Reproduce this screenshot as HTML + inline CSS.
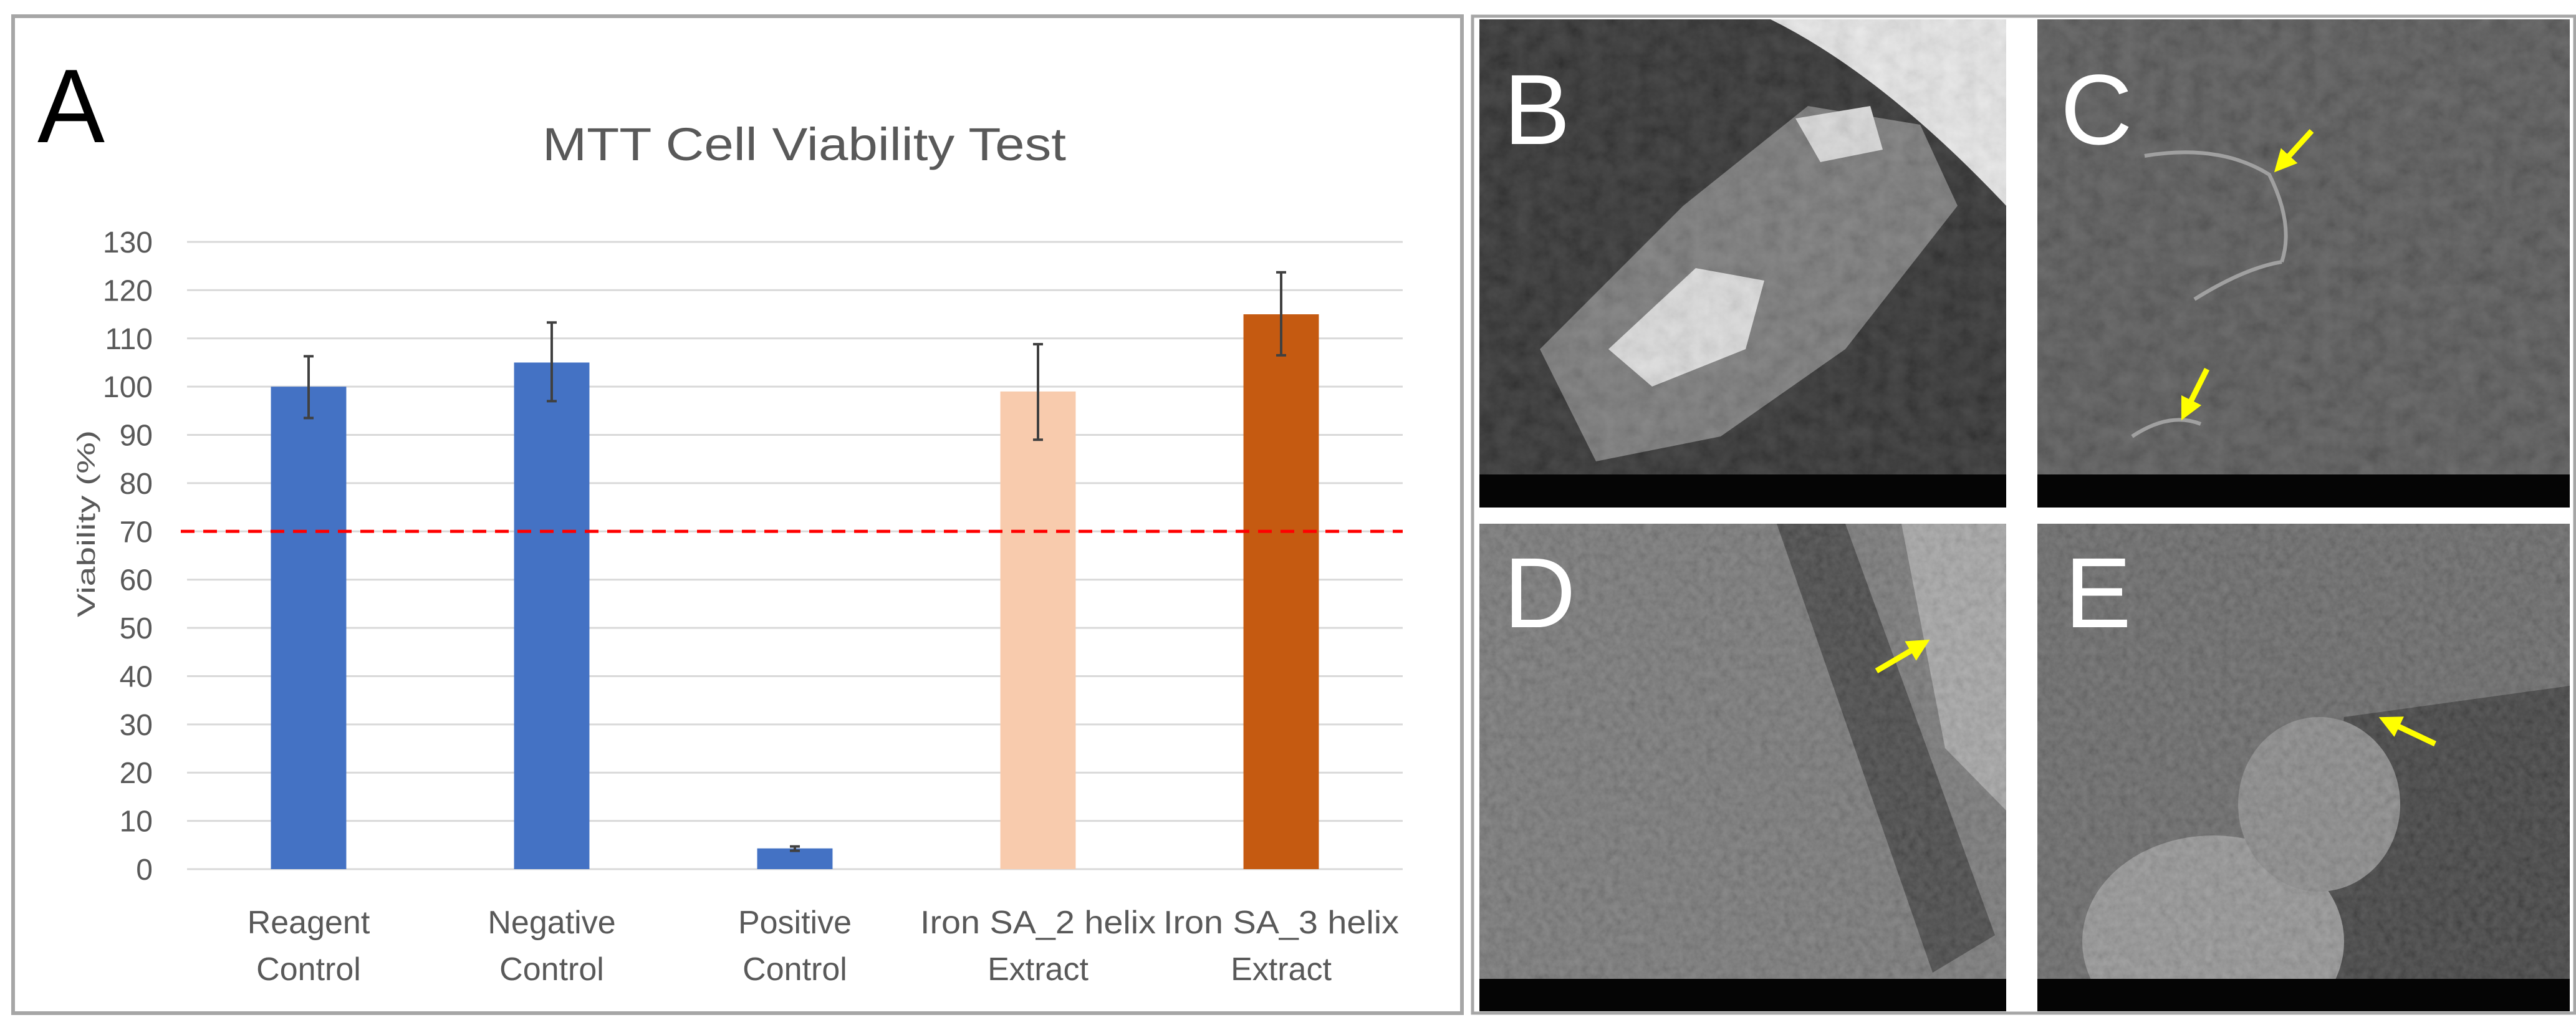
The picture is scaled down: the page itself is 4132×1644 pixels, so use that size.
<!DOCTYPE html>
<html><head><meta charset="utf-8"><style>
html,body{margin:0;padding:0;background:#fff;}
svg{display:block;}
text{font-family:"Liberation Sans",sans-serif;}
</style></head><body>
<svg id="fig" width="4132" height="1644" viewBox="0 0 4132 1644" xmlns="http://www.w3.org/2000/svg">
<defs>
<filter id="noise" x="0" y="0" width="100%" height="100%">
<feTurbulence type="fractalNoise" baseFrequency="0.035" numOctaves="4" seed="3"/>
<feColorMatrix type="saturate" values="0"/>
<feComponentTransfer><feFuncA type="linear" slope="0" intercept="0.22"/></feComponentTransfer>
</filter>
<filter id="noise2" x="0" y="0" width="100%" height="100%">
<feTurbulence type="fractalNoise" baseFrequency="0.08" numOctaves="3" seed="8"/>
<feColorMatrix type="saturate" values="0"/>
<feComponentTransfer><feFuncA type="linear" slope="0" intercept="0.22"/></feComponentTransfer>
</filter>
<clipPath id="cB"><rect x="2373" y="31" width="845" height="783"/></clipPath>
<clipPath id="cC"><rect x="3268" y="31" width="854" height="783"/></clipPath>
<clipPath id="cD"><rect x="2373" y="840" width="845" height="782"/></clipPath>
<clipPath id="cE"><rect x="3268" y="840" width="854" height="782"/></clipPath>
<marker id="ah" markerWidth="4" markerHeight="4" refX="2" refY="2" orient="auto" markerUnits="strokeWidth"><path d="M0,0 L4,2 L0,4 z" fill="#ffff00"/></marker>
</defs>

<!-- Panel A -->
<rect x="21" y="26" width="2324" height="1599" fill="#fff" stroke="#a6a6a6" stroke-width="6"/>
<text x="60" y="228" font-size="168" fill="#000" textLength="108" lengthAdjust="spacingAndGlyphs">A</text>
<text x="1290" y="257" font-size="74" fill="#595959" text-anchor="middle" textLength="840" lengthAdjust="spacingAndGlyphs">MTT Cell Viability Test</text>
<text transform="translate(152,840) rotate(-90)" font-size="40" fill="#595959" text-anchor="middle" textLength="300" lengthAdjust="spacingAndGlyphs">Viability (%)</text>
<g id="grid"></g>
<g id="yticks"></g>
<g id="bars"></g>
<g id="xlabels"></g>

<!-- Right panel -->
<rect x="2362" y="26" width="1768" height="1599" fill="#fff" stroke="#a6a6a6" stroke-width="5"/>

<g clip-path="url(#cB)">
<rect x="2373" y="31" width="845" height="783" fill="#1e1e1e"/>
<path d="M2840,31 L3218,31 L3218,330 Q3020,120 2840,31 z" fill="#e8e8e8"/>
<path d="M2470,560 L2700,330 L2900,170 L3080,200 L3140,330 L2960,560 L2760,700 L2560,740 z" fill="#6e6e6e"/>
<path d="M2580,560 L2720,430 L2830,450 L2800,560 L2650,620 z" fill="#dcdcdc"/>
<path d="M2880,190 L3000,170 L3020,240 L2920,260 z" fill="#d8d8d8"/>
<rect x="2373" y="31" width="845" height="783" filter="url(#noise)"/>
<rect x="2373" y="761" width="845" height="53" fill="#050505"/>
<text x="2412" y="231" font-size="160" fill="#fff">B</text>
</g>

<g clip-path="url(#cC)">
<rect x="3268" y="31" width="854" height="783" fill="#4a4a4a"/>
<rect x="3268" y="31" width="854" height="783" filter="url(#noise)"/>
<path d="M3440,250 Q3560,230 3640,280 Q3680,360 3660,420 M3520,480 Q3600,430 3660,420 M3420,700 Q3480,660 3530,680" stroke="#a0a0a0" stroke-width="6" fill="none"/>
<rect x="3268" y="761" width="854" height="53" fill="#050505"/>
<text x="3305" y="231" font-size="160" fill="#fff">C</text>
<line x1="3708" y1="210" x2="3660" y2="263" stroke="#ffff00" stroke-width="9" marker-end="url(#ah)"/>
<line x1="3540" y1="592" x2="3507" y2="658" stroke="#ffff00" stroke-width="9" marker-end="url(#ah)"/>
</g>

<g clip-path="url(#cD)">
<rect x="2373" y="840" width="845" height="782" fill="#6e6e6e"/>
<path d="M2850,840 L2960,840 L3200,1500 L3100,1560 z" fill="#3a3a3a"/>
<path d="M3050,840 L3218,840 L3218,1300 L3120,1200 z" fill="#a0a0a0"/>
<rect x="2373" y="840" width="845" height="782" filter="url(#noise2)"/>
<rect x="2373" y="1570" width="845" height="52" fill="#050505"/>
<text x="2412" y="1006" font-size="160" fill="#fff">D</text>
<line x1="3010" y1="1076" x2="3080" y2="1035" stroke="#ffff00" stroke-width="9" marker-end="url(#ah)"/>
</g>

<g clip-path="url(#cE)">
<rect x="3268" y="840" width="854" height="782" fill="#5e5e5e"/>
<path d="M3760,1150 L4122,1100 L4122,1570 L3700,1570 z" fill="#333"/>
<ellipse cx="3550" cy="1510" rx="210" ry="170" fill="#8e8e8e"/>
<ellipse cx="3720" cy="1290" rx="130" ry="140" fill="#828282"/>
<rect x="3268" y="840" width="854" height="782" filter="url(#noise2)"/>
<rect x="3268" y="1570" width="854" height="52" fill="#050505"/>
<text x="3312" y="1006" font-size="160" fill="#fff">E</text>
<line x1="3906" y1="1193" x2="3832" y2="1158" stroke="#ffff00" stroke-width="9" marker-end="url(#ah)"/>
</g>
</svg>
<script>
const categories1 = ["Reagent","Negative","Positive","Iron SA_2 helix","Iron SA_3 helix"];
const categories2 = ["Control","Control","Control","Extract","Extract"];
const values = [100, 105, 4.3, 99, 115];
const errLow = [93.5, 97, 3.8, 89, 106.5];
const errHigh = [106.3, 113.3, 4.7, 108.8, 123.7];
const colors = ["#4472c4","#4472c4","#4472c4","#f8cbad","#c55a11"];
const yTicks = [0,10,20,30,40,50,60,70,80,90,100,110,120,130];
const threshold = 70;

const NS = "http://www.w3.org/2000/svg";
const X0 = 300, X1 = 2250, Y0 = 1394, Y1 = 388, YMAX = 130;
const band = (X1 - X0) / categories1.length;
function xScale(i){ return X0 + band * (i + 0.5); }
function yScale(v){ return Y0 - (v / YMAX) * (Y0 - Y1); }
function mk(tag, attrs, parent){ const e = document.createElementNS(NS, tag); for (const k in attrs) e.setAttribute(k, attrs[k]); parent.appendChild(e); return e; }

const grid = document.getElementById('grid');
const yt = document.getElementById('yticks');
yTicks.forEach(t => {
  const l = mk('line', {x1:X0, x2:X1, y1:yScale(t), y2:yScale(t), stroke:'#d9d9d9', 'stroke-width':3}, grid);
  
  
  const tx = mk('text', {x:245, y:yScale(t)+17, 'font-size':48, fill:'#595959', 'text-anchor':'end'}, yt);
  tx.textContent = t;
  
  
});

const bars = document.getElementById('bars');
const bw = band * 0.31;
values.forEach((v, i) => {
  const cx = xScale(i);
  const r = mk('rect', {x:cx - bw/2, y:yScale(v), width:bw, height:Y0 - yScale(v), fill:colors[i]}, bars);
  
  
  const g = mk('g', {stroke:'#404040', 'stroke-width':4}, bars);
  
  
  mk('line', {x1:cx, x2:cx, y1:yScale(errLow[i]), y2:yScale(errHigh[i])}, g);
  mk('line', {x1:cx-8, x2:cx+8, y1:yScale(errLow[i]), y2:yScale(errLow[i])}, g);
  mk('line', {x1:cx-8, x2:cx+8, y1:yScale(errHigh[i]), y2:yScale(errHigh[i])}, g);
});
const th = mk('line', {x1:X0-10, x2:X1, y1:yScale(threshold), y2:yScale(threshold), stroke:'#ff0000', 'stroke-width':5, 'stroke-dasharray':'22 14'}, bars);



const xl = document.getElementById('xlabels');
categories1.forEach((c, i) => {
  const cx = xScale(i);
  const a = mk('text', {x:cx, y:1497, 'font-size':52, fill:'#595959', 'text-anchor':'middle'}, xl);
  if (c.length > 10) { a.setAttribute('textLength', 378); a.setAttribute('lengthAdjust','spacingAndGlyphs'); }
  a.textContent = c;
  
  
  const b = mk('text', {x:cx, y:1572, 'font-size':52, fill:'#595959', 'text-anchor':'middle'}, xl);
  b.textContent = categories2[i];
  
  
});
</script>
</body></html>
